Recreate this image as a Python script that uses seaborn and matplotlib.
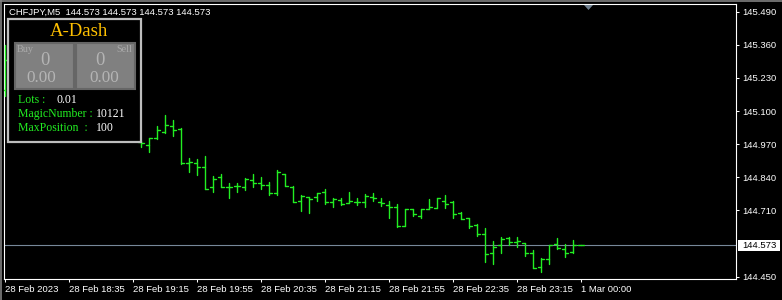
import numpy as np
import pandas as pd
import matplotlib
matplotlib.use("Agg")
import matplotlib.pyplot as plt
import seaborn as sns
from matplotlib.patches import Rectangle, Polygon

# ---------------- data ----------------
symbol_title = "CHFJPY,M5  144.573 144.573 144.573 144.573"

opens = [145.183, 145.300, 145.290, 145.260, 145.240, 145.230, 145.200, 145.180, 145.160, 145.140,
         145.130, 145.100, 145.080, 145.050, 145.060, 145.030, 145.000, 144.979, 144.967, 144.993,
         145.017, 145.041, 145.030, 144.897, 144.895, 144.882, 144.801, 144.840, 144.802, 144.806,
         144.801, 144.830, 144.817, 144.810, 144.777, 144.853, 144.802, 144.747, 144.761, 144.762,
         144.781, 144.742, 144.751, 144.738, 144.742, 144.744, 144.762, 144.745, 144.731, 144.722,
         144.650, 144.714, 144.689, 144.714, 144.721, 144.748, 144.742, 144.699, 144.679, 144.653,
         144.616, 144.542, 144.574, 144.601, 144.587, 144.581, 144.542, 144.489, 144.519, 144.578,
         144.558, 144.546, 144.573]
highs = [145.359, 145.330, 145.310, 145.280, 145.270, 145.250, 145.220, 145.210, 145.180, 145.170,
         145.150, 145.120, 145.100, 145.080, 145.070, 145.050, 145.020, 144.983, 144.993, 145.041,
         145.085, 145.065, 145.032, 144.915, 144.912, 144.924, 144.845, 144.853, 144.817, 144.818,
         144.836, 144.853, 144.841, 144.823, 144.869, 144.853, 144.806, 144.771, 144.761, 144.777,
         144.793, 144.759, 144.759, 144.781, 144.760, 144.773, 144.777, 144.758, 144.747, 144.735,
         144.716, 144.716, 144.716, 144.755, 144.758, 144.771, 144.747, 144.703, 144.679, 144.656,
         144.642, 144.590, 144.606, 144.605, 144.605, 144.581, 144.555, 144.522, 144.574, 144.601,
         144.577, 144.594, 144.573]
lows = [145.159, 145.270, 145.250, 145.220, 145.210, 145.190, 145.170, 145.150, 145.120, 145.110,
        145.090, 145.060, 145.040, 145.020, 145.010, 144.995, 144.985, 144.960, 144.941, 144.989,
        145.013, 145.003, 144.892, 144.862, 144.849, 144.793, 144.784, 144.801, 144.760, 144.784,
        144.791, 144.801, 144.795, 144.772, 144.769, 144.805, 144.743, 144.709, 144.701, 144.748,
        144.737, 144.722, 144.731, 144.738, 144.731, 144.722, 144.748, 144.727, 144.682, 144.646,
        144.650, 144.689, 144.682, 144.714, 144.721, 144.718, 144.682, 144.675, 144.640, 144.611,
        144.509, 144.500, 144.544, 144.574, 144.568, 144.531, 144.483, 144.467, 144.499, 144.559,
        144.528, 144.542, 144.573]
closes = [145.300, 145.290, 145.260, 145.240, 145.230, 145.200, 145.180, 145.160, 145.140, 145.130,
          145.100, 145.080, 145.050, 145.060, 145.030, 145.000, 144.990, 144.974, 144.993, 145.026,
          145.045, 145.025, 144.895, 144.900, 144.879, 144.793, 144.832, 144.803, 144.801, 144.807,
          144.832, 144.817, 144.809, 144.777, 144.860, 144.806, 144.744, 144.767, 144.756, 144.777,
          144.742, 144.755, 144.735, 144.746, 144.744, 144.767, 144.760, 144.739, 144.722, 144.650,
          144.714, 144.695, 144.714, 144.725, 144.758, 144.734, 144.695, 144.675, 144.650, 144.616,
          144.538, 144.565, 144.598, 144.585, 144.591, 144.542, 144.483, 144.519, 144.574, 144.561,
          144.542, 144.573, 144.573]

time_labels = ["28 Feb 2023", "28 Feb 18:35", "28 Feb 19:15", "28 Feb 19:55", "28 Feb 20:35",
               "28 Feb 21:15", "28 Feb 21:55", "28 Feb 22:35", "28 Feb 23:15", "1 Mar 00:00"]
label_every = 8
price_ticks = [145.490, 145.360, 145.230, 145.100, 144.970, 144.840, 144.710, 144.450]
current_price = 144.573

panel_title = "A-Dash"
buy_count, buy_profit = "0", "0.00"
sell_count, sell_profit = "0", "0.00"
info_labels = ["Lots :", "MagicNumber :", "MaxPosition  :"]
info_values = ["0.01", "10121", "100"]

# ---------------- style ----------------
W, H = 782, 300
sns.set_theme(style="dark", rc={"axes.facecolor": "black", "figure.facecolor": "black"})
plt.rcParams["font.family"] = ["Liberation Sans", "DejaVu Sans"]

GREEN = "#22EE22"
AXFONT = 6.8
SERIF = ["Liberation Serif", "DejaVu Serif"]

fig = plt.figure(figsize=(W / 100, H / 100), dpi=100)
fig.patch.set_facecolor("black")

# plot area in pixels: left 4, right 736, top 4.3, bottom 278.7
pl, pr, pt, pb = 4.0, 736.0, 4.3, 278.7
ax = fig.add_axes([pl / W, (H - pb) / H, (pr - pl) / W, (pb - pt) / H])
ax.set_facecolor("black")

# ---------------- OHLC bars via seaborn ----------------
tick = 0.36
rows = []
for i in range(len(opens)):
    rows += [(i, lows[i], 3 * i), (i, highs[i], 3 * i)]
    rows += [(i - tick, opens[i], 3 * i + 1), (i, opens[i], 3 * i + 1)]
    rows += [(i, closes[i], 3 * i + 2), (i + tick, closes[i], 3 * i + 2)]
df = pd.DataFrame(rows, columns=["bar", "price", "seg"])
sns.lineplot(data=df, x="bar", y="price", units="seg", estimator=None, sort=False,
             color=GREEN, lw=1.0, ax=ax, legend=False, zorder=3)

ax.axhline(current_price, color="#778899", lw=0.8, zorder=2)

# scales: bar i at pixel 5.3 + 8 i ; price <-> pixel 254.8 px per unit
ax.set_xlim((pl - 5.3) / 8, (pr - 5.3) / 8)
ax.set_ylim(145.490 - (pb - 11.7) / 254.8, 145.490 - (pt - 11.7) / 254.8)

ax.yaxis.tick_right()
ax.set_yticks(price_ticks)
ax.set_yticklabels([f"{v:.3f}" for v in price_ticks])
ax.set_xticks(list(range(0, label_every * len(time_labels), label_every)))
ax.set_xticklabels(time_labels, ha="left")
ax.tick_params(axis="both", colors="white", labelcolor="white", length=2.4, width=0.75,
               labelsize=AXFONT, direction="out")
ax.tick_params(axis="y", pad=2.0, left=False, right=True)
ax.tick_params(axis="x", pad=2.0, bottom=True)
ax.set_xlabel("")
ax.set_ylabel("")
ax.grid(False)
for s in ax.spines.values():
    s.set_visible(True)
    s.set_color("white")
    s.set_linewidth(0.8)

# ---------------- overlay in pixel coordinates ----------------
ov = fig.add_axes([0, 0, 1, 1], zorder=10)
ov.set_xlim(0, W)
ov.set_ylim(H, 0)
ov.axis("off")
ov.patch.set_alpha(0)

# window frame
ov.plot([0, W], [0.5, 0.5], color="#808080", lw=1.2)
ov.plot([0.5, 0.5], [0, H], color="#808080", lw=1.2)

# title line
ov.text(9.3, 12.8, symbol_title, color="white", fontsize=AXFONT, ha="left", va="center")

# chart shift marker
ov.add_patch(Polygon([(584, 5), (593, 5), (588.5, 10)], closed=True, fc="#708090", ec="none"))

# current price label
ypx = H - ax.transData.transform((0, current_price))[1]
ov.add_patch(Rectangle((738, ypx - 5.4), 41.5, 10.8, fc="white", ec="none"))
ov.text(742, ypx + 0.3, f"{current_price:.3f}", color="black", fontsize=AXFONT, ha="left", va="center")

# dashboard panel
ov.add_patch(Rectangle((7.8, 19.2), 133.2, 122.8, fc="black", ec="#BEBEBE", lw=1.6))
ov.text(79, 31.5, panel_title, color="#FFC000", fontsize=13.5, family=SERIF, ha="center", va="center")

ov.add_patch(Rectangle((14.5, 42.5), 59, 46, fc="#808080", ec="#666666", lw=1.5))
ov.add_patch(Rectangle((76, 42.5), 58.5, 46, fc="#808080", ec="#666666", lw=1.5))
ov.text(17, 50, "Buy", color="#AAAAAA", fontsize=7.3, family=SERIF, ha="left", va="center")
ov.text(132.5, 50, "Sell", color="#AAAAAA", fontsize=7.3, family=SERIF, ha="right", va="center")
ov.text(45, 60.5, buy_count, color="#B4B4B4", fontsize=13.5, family=SERIF, ha="center", va="center")
ov.text(41.7, 78, buy_profit, color="#B4B4B4", fontsize=12.3, family=SERIF, ha="center", va="center")
ov.text(100, 60.5, sell_count, color="#B4B4B4", fontsize=13.5, family=SERIF, ha="center", va="center")
ov.text(104.3, 78, sell_profit, color="#B4B4B4", fontsize=12.3, family=SERIF, ha="center", va="center")

info_y = [100, 114, 128]
info_vx = [56.7, 95.7, 96]
for lab, val, yy, vx in zip(info_labels, info_values, info_y, info_vx):
    ov.text(18, yy, lab, color=GREEN, fontsize=8.5, family=SERIF, ha="left", va="center")
    ov.text(vx, yy, val, color="white", fontsize=8.5, family=SERIF, ha="left", va="center")

fig.savefig("out.png", dpi=100, facecolor="black")
